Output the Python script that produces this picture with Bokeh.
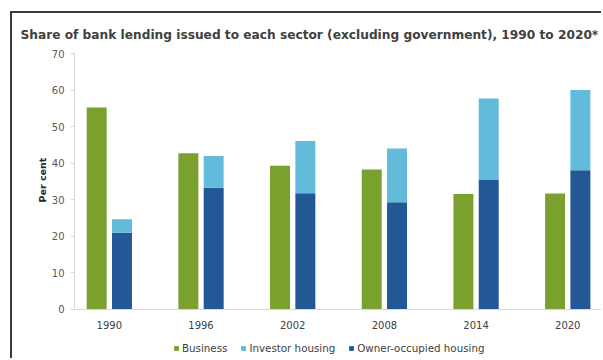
from bokeh.plotting import figure
from bokeh.models import ColumnDataSource, Range1d, FixedTicker, Legend, LegendItem, Title, LinearAxis
from bokeh.transform import dodge
from bokeh.embed import file_html
from bokeh.resources import INLINE

years = ["1990", "1996", "2002", "2008", "2014", "2020"]
business = [55.2, 42.7, 39.3, 38.3, 31.6, 31.7]
owner_occupied = [21.0, 33.3, 31.8, 29.3, 35.4, 38.1]
investor = [3.7, 8.7, 14.3, 14.7, 22.3, 21.9]
y_ticks = [0, 10, 20, 30, 40, 50, 60, 70]

GREEN = "#7aa12e"
LIGHT = "#63bbdc"
DARK = "#235897"
FONT = "DejaVu Sans"

idx = list(range(len(years)))
src = ColumnDataSource(dict(
    x=idx, business=business, owner=owner_occupied,
    top_inv=[o + i for o, i in zip(owner_occupied, investor)],
))

p = figure(width=591, height=347, output_backend="svg", toolbar_location=None,
           x_range=Range1d(-0.38, 5.39), y_range=Range1d(-13.95, 70),
           x_axis_location=None,
           min_border_left=62, min_border_right=0, min_border_top=40, min_border_bottom=0)
p.margin = (11, 0, 0, 10)
p.styles = {"border-left": "2px solid #3a3a3a", "border-top": "2px solid #3a3a3a"}
p.outline_line_color = None
p.xgrid.visible = False
p.ygrid.visible = False

t = Title(text="Share of bank lending issued to each sector (excluding government), 1990 to 2020*",
          text_font=FONT, text_font_size="12.2px", text_font_style="bold", text_color="#404040",
          align="left", offset=-54, standoff=23)
p.add_layout(t, "above")

w = 0.218
rb = p.vbar(x=dodge("x", -0.138, range=p.x_range), top="business", bottom=0, width=w,
            source=src, fill_color=GREEN, line_color=None)
ro = p.vbar(x=dodge("x", 0.138, range=p.x_range), top="owner", bottom=0, width=w,
            source=src, fill_color=DARK, line_color=None)
ri = p.vbar(x=dodge("x", 0.138, range=p.x_range), top="top_inv", bottom="owner", width=w,
            source=src, fill_color=LIGHT, line_color=None)

yax = p.yaxis[0]
yax.bounds = (0, 70)
yax.ticker = FixedTicker(ticks=y_ticks)
yax.major_label_text_font = FONT
yax.major_label_text_font_size = "10px"
yax.major_label_text_color = "#595959"
yax.axis_line_color = "#d9d9d9"
yax.major_tick_line_color = "#d9d9d9"
yax.major_tick_out = 4
yax.major_tick_in = 0
yax.minor_tick_line_color = None
yax.major_label_standoff = 6

ylab = Title(text="Per cent", text_font=FONT, text_font_size="9.5px", text_font_style="bold",
             text_color="#262626", align="left", offset=158, standoff=1)
p.add_layout(ylab, "left")

xax = LinearAxis(fixed_location=0)
xax.ticker = FixedTicker(ticks=idx)
xax.major_label_overrides = {i: y for i, y in zip(idx, years)}
xax.major_label_text_font = FONT
xax.major_label_text_font_size = "10px"
xax.major_label_text_color = "#404040"
xax.axis_line_color = "#d9d9d9"
xax.major_tick_line_color = None
xax.minor_tick_line_color = None
xax.major_label_standoff = 6
p.add_layout(xax, "below")

legend = Legend(items=[LegendItem(label="Business", renderers=[rb]),
                       LegendItem(label="Investor housing", renderers=[ri]),
                       LegendItem(label="Owner-occupied housing", renderers=[ro])],
                orientation="horizontal", location=(99, 6),
                glyph_width=6, glyph_height=6, label_standoff=3, spacing=13,
                padding=0, margin=0, border_line_color=None, background_fill_alpha=0,
                label_text_font=FONT, label_text_font_size="10.3px", label_text_color="#404040",
                label_height=12)
p.add_layout(legend, "center")

open("out.html", "w").write(file_html(p, INLINE))
